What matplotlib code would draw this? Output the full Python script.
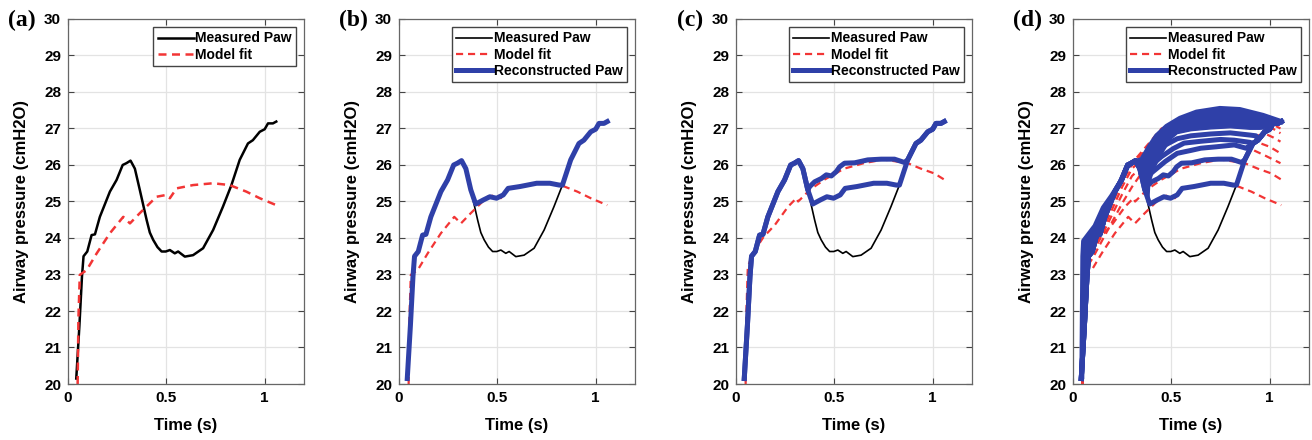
import numpy as np
import matplotlib
matplotlib.use('Agg')
import matplotlib.pyplot as plt
from matplotlib.lines import Line2D
from matplotlib.patches import Polygon

plt.rcParams['font.family'] = ['Liberation Sans', 'DejaVu Sans']
plt.rcParams['font.weight'] = 'bold'

# Measured airway pressure
t_meas = [0.042, 0.058, 0.071, 0.079, 0.098, 0.120, 0.137, 0.162, 0.213, 0.247, 0.278, 0.297,
          0.318, 0.340, 0.365, 0.400, 0.416, 0.433, 0.455, 0.476, 0.497, 0.518, 0.543, 0.560,
          0.594, 0.636, 0.687, 0.738, 0.788, 0.831, 0.873, 0.915, 0.940, 0.975, 1.000, 1.017,
          1.042, 1.059]
p_meas = [20.15, 21.6, 22.94, 23.5, 23.63, 24.08, 24.1, 24.58, 25.27, 25.59, 26.0, 26.05,
          26.12, 25.9, 25.32, 24.49, 24.15, 23.95, 23.75, 23.63, 23.63, 23.67, 23.58, 23.63,
          23.49, 23.53, 23.72, 24.22, 24.86, 25.45, 26.14, 26.59, 26.68, 26.91, 26.98, 27.14,
          27.14, 27.19]

# model fit (a)/(b)
t_fit1 = [0.049, 0.053, 0.060, 0.095, 0.146, 0.213, 0.281, 0.315, 0.365, 0.450, 0.500, 0.518,
          0.552, 0.636, 0.738, 0.822, 0.907, 0.975, 1.059]
p_fit1 = [20.0, 21.8, 22.99, 23.12, 23.58, 24.13, 24.58, 24.4, 24.68, 25.13, 25.18, 25.09,
          25.36, 25.45, 25.5, 25.45, 25.27, 25.09, 24.9]

# model fit (c)
t_fit2 = [0.049, 0.053, 0.060, 0.080, 0.100, 0.139, 0.198, 0.265, 0.307, 0.316, 0.350, 0.375,
          0.450, 0.550, 0.650, 0.750, 0.873, 0.940, 1.008, 1.059]
p_fit2 = [20.0, 22.0, 23.2, 23.5, 23.7, 24.02, 24.36, 24.86, 25.09, 25.0, 25.18, 25.32,
          25.6, 25.9, 26.05, 26.15, 26.05, 25.9, 25.77, 25.6]

# reconstructed plateaus (between branch and re-join with measured)
t_plat1 = [0.390, 0.428, 0.462, 0.496, 0.530, 0.555, 0.615, 0.700, 0.767, 0.815]
p_plat1 = [24.93, 25.04, 25.13, 25.09, 25.18, 25.36, 25.41, 25.5, 25.5, 25.45]
t_plat2 = [0.375, 0.400, 0.434, 0.459, 0.485, 0.510, 0.527, 0.552, 0.603, 0.670, 0.738, 0.806, 0.856]
p_plat2 = [25.41, 25.54, 25.63, 25.73, 25.70, 25.82, 25.95, 26.05, 26.06, 26.14, 26.16, 26.16, 26.07]
t_plat3 = [0.345, 0.380, 0.416, 0.470, 0.530, 0.600, 0.650, 0.730, 0.820, 0.880]
p_plat3 = [25.75, 25.7, 25.86, 26.1, 26.32, 26.4, 26.46, 26.5, 26.55, 26.46]
t_plat4 = [0.340, 0.400, 0.450, 0.510, 0.565, 0.650, 0.750, 0.820, 0.900]
p_plat4 = [25.9, 26.0, 26.23, 26.45, 26.6, 26.65, 26.7, 26.68, 26.62]
t_plat5 = [0.330, 0.400, 0.470, 0.530, 0.600, 0.700, 0.800, 0.900, 0.930]
p_plat5 = [26.05, 26.3, 26.55, 26.72, 26.8, 26.85, 26.88, 26.82, 26.8]

# extra fits in (d): early part, late part
fit_early = [
    ([0.049, 0.054, 0.058, 0.10, 0.15, 0.20, 0.25, 0.30], [20.0, 22.0, 23.1, 23.45, 23.95, 24.45, 24.95, 25.4]),
    ([0.049, 0.054, 0.058, 0.10, 0.15, 0.20, 0.25, 0.30], [20.0, 22.2, 23.2, 23.6, 24.1, 24.65, 25.2, 25.7]),
    ([0.049, 0.054, 0.058, 0.10, 0.15, 0.20, 0.25, 0.30], [20.0, 22.3, 23.3, 23.7, 24.2, 24.8, 25.4, 25.9]),
    ([0.049, 0.054, 0.058, 0.10, 0.15, 0.20, 0.25, 0.30], [20.0, 22.4, 23.4, 23.8, 24.3, 24.95, 25.55, 26.0]),
    ([0.049, 0.054, 0.058, 0.10, 0.15, 0.20, 0.25, 0.30], [20.0, 22.5, 23.5, 23.85, 24.35, 25.05, 25.6, 26.05]),
]
fit_late = [
    ([0.92, 0.98, 1.055], [26.4, 26.25, 26.05]),
    ([0.95, 1.00, 1.055], [26.6, 26.5, 26.32]),
    ([0.98, 1.02, 1.055], [26.85, 26.75, 26.64]),
    ([0.45, 0.65, 0.85, 1.00, 1.055], [26.9, 27.2, 27.2, 27.05, 26.87]),
    ([0.45, 0.65, 0.85, 1.02, 1.055], [27.0, 27.35, 27.35, 27.1, 27.0]),
]

# dense top region of (d): upper edge, lower edge
t_top = [0.045, 0.050, 0.054, 0.112, 0.154, 0.196, 0.239, 0.272, 0.300, 0.349, 0.390,
         0.425, 0.476, 0.544, 0.628, 0.747, 0.848, 0.966, 1.059]
p_top = [20.2, 23.5, 23.92, 24.33, 24.83, 25.15, 25.52, 25.93, 26.07, 26.15, 26.52,
         26.8, 27.06, 27.28, 27.45, 27.55, 27.52, 27.36, 27.19]
t_low = [1.059, 1.042, 1.017, 1.000, 0.950, 0.900, 0.800, 0.700, 0.600, 0.530, 0.500, 0.440,
         0.410, 0.390, 0.385, 0.365, 0.340, 0.318, 0.297, 0.278, 0.247, 0.213, 0.162, 0.137,
         0.120, 0.098, 0.079, 0.071, 0.058, 0.045]
p_low = [27.19, 27.14, 27.14, 27.0, 26.98, 26.98, 27.02, 26.99, 26.94, 26.86, 26.72, 26.2,
         25.85, 25.5, 24.97, 25.32, 25.9, 26.12, 26.05, 26.0, 25.59, 25.27, 24.58, 24.1,
         24.08, 23.63, 23.5, 22.94, 21.6, 20.2]

BLUE = '#2f40a8'
RED = '#f23535'


def recon(t_pl, p_pl):
    t0, t1 = t_pl[0], t_pl[-1]
    tb = [t for t in t_meas if t < t0]
    pb = [p for t, p in zip(t_meas, p_meas) if t < t0]
    ta = [t for t in t_meas if t > t1]
    pa = [p for t, p in zip(t_meas, p_meas) if t > t1]
    return tb + list(t_pl) + ta, pb + list(p_pl) + pa


fig = plt.figure(figsize=(13.12, 4.4), dpi=100)
lefts = [68, 399, 736, 1073]
labels = ['(a)', '(b)', '(c)', '(d)']
axes = []
for i, l in enumerate(lefts):
    ax = fig.add_axes([l / 1312, 56 / 440, 236 / 1312, 365 / 440])
    ax.set_xlim(0, 1.2)
    ax.set_ylim(20, 30)
    ax.set_xticks([0, 0.5, 1])
    ax.set_xticklabels(['0', '0.5', '1'])
    ax.set_yticks(range(20, 31))
    ax.grid(True, color='#e3e3e3', linewidth=0.9)
    ax.set_axisbelow(True)
    ax.tick_params(direction='in', top=True, right=True, length=4, width=0.8,
                   labelsize=11, color='#444444', pad=5)
    for sp in ax.spines.values():
        sp.set_color('#666666')
        sp.set_linewidth(0.9)
    ax.set_xlabel('Time (s)', fontsize=12, fontweight='bold')
    ax.set_ylabel('Airway pressure (cmH2O)', fontsize=12, fontweight='bold')
    ax.yaxis.set_label_coords(-39 / 236, 0.5)
    ax.xaxis.set_label_coords(0.5, -34 / 365)
    fig.text((l - 46) / 1312, 1 - 20 / 440, labels[i], family='Liberation Serif',
             fontsize=17, fontweight='bold', ha='center', va='center')
    axes.append(ax)

dash = (0, (3.2, 2.2))

# (a)
ax = axes[0]
ax.plot(t_meas, p_meas, color='black', lw=1.8)
ax.plot(t_fit1, p_fit1, color=RED, lw=1.8, linestyle=dash)
handles = [Line2D([], [], color='black', lw=1.8), Line2D([], [], color=RED, lw=1.8, linestyle=dash)]
ax.legend(handles, ['Measured Paw', 'Model fit'], loc='upper right', fontsize=10,
          fancybox=False, edgecolor='#444444', framealpha=1, handlelength=2.6,
          handletextpad=0.1, borderpad=0.3, labelspacing=0.15, borderaxespad=0.6)

leg_handles = [Line2D([], [], color='black', lw=1.2),
               Line2D([], [], color=RED, lw=1.6, linestyle=dash),
               Line2D([], [], color=BLUE, lw=3.6)]
leg_labels = ['Measured Paw', 'Model fit', 'Reconstructed Paw']

# (b)
ax = axes[1]
ax.plot(t_meas, p_meas, color='black', lw=1.2)
ax.plot(t_fit1, p_fit1, color=RED, lw=1.6, linestyle=dash)
tr, pr = recon(t_plat1, p_plat1)
ax.plot(tr, pr, color=BLUE, lw=3.6, solid_joinstyle='round')

# (c)
ax = axes[2]
ax.plot(t_meas, p_meas, color='black', lw=1.2)
ax.plot(t_fit2, p_fit2, color=RED, lw=1.6, linestyle=dash)
for tp, pp in [(t_plat1, p_plat1), (t_plat2, p_plat2)]:
    tr, pr = recon(tp, pp)
    ax.plot(tr, pr, color=BLUE, lw=3.6, solid_joinstyle='round')

# (d)
ax = axes[3]
ax.plot(t_meas, p_meas, color='black', lw=1.2)
ax.plot(t_fit1, p_fit1, color=RED, lw=1.6, linestyle=dash)
ax.plot(t_fit2, p_fit2, color=RED, lw=1.6, linestyle=dash)
plats = [(t_plat3, p_plat3), (t_plat4, p_plat4), (t_plat5, p_plat5)]
for k, (te, pe) in enumerate(fit_early):
    tl, pl = fit_late[k]
    if k < 3:
        tf = te + plats[k][0] + tl
        pf = pe + plats[k][1] + pl
    else:
        tf = te + tl
        pf = pe + pl
    ax.plot(tf, pf, color=RED, lw=1.6, linestyle=dash)
for tp, pp in [(t_plat1, p_plat1), (t_plat2, p_plat2)] + plats:
    tr, pr = recon(tp, pp)
    ax.plot(tr, pr, color=BLUE, lw=3.6, solid_joinstyle='round', zorder=3)
dense = Polygon(np.column_stack([t_top + t_low, p_top + p_low]), closed=True,
                facecolor=BLUE, edgecolor=BLUE, lw=1.0, zorder=3)
ax.add_patch(dense)
ax.plot(t_top, p_top, color=BLUE, lw=3.6, solid_joinstyle='round', zorder=3)

for ax in axes[1:]:
    ax.legend(leg_handles, leg_labels, loc='upper right', fontsize=10,
              fancybox=False, edgecolor='#444444', framealpha=1, handlelength=2.6,
              handletextpad=0.1, borderpad=0.3, labelspacing=0.15, borderaxespad=0.6)

fig.savefig('out.png', dpi=100)
